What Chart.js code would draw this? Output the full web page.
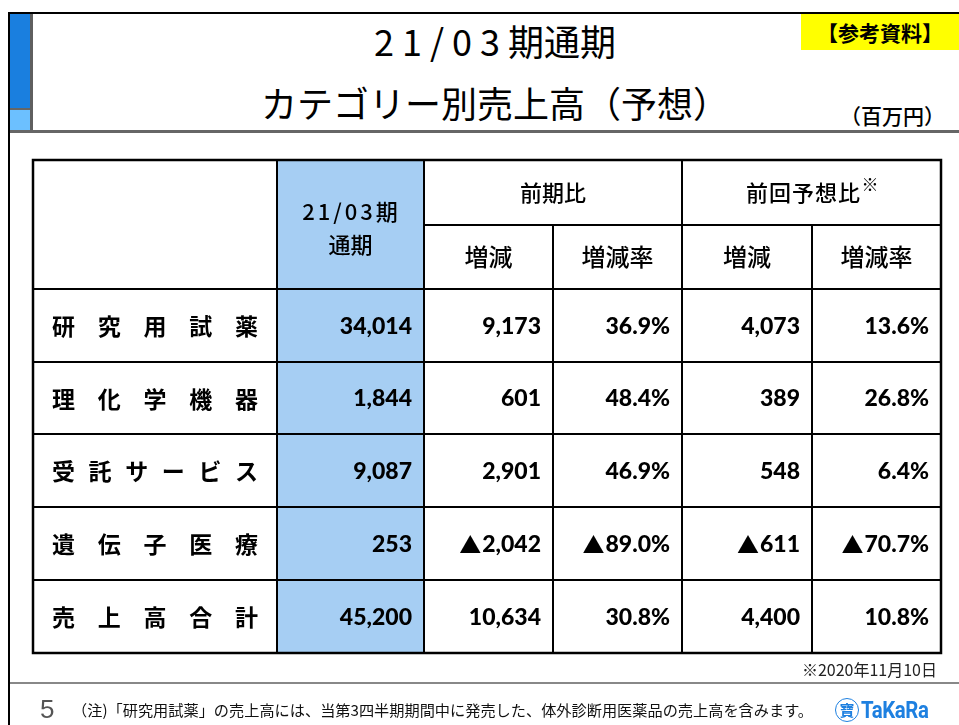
<!DOCTYPE html>
<html lang="ja">
<head>
<meta charset="UTF-8">
<title>21/03期通期 カテゴリー別売上高（予想）</title>
<script src="https://cdn.jsdelivr.net/npm/chart.js"></script>
<style>
  html, body { margin: 0; padding: 0; background: #fff; }
  body { width: 959px; height: 725px; position: relative; overflow: hidden; font-family: "Noto Sans CJK JP", sans-serif; }
  .abs { position: absolute; }
  #table { position: absolute; left: 0; top: 0; }
  .title { left: 31px; width: 928px; text-align: center; font-size: 36px; line-height: 36px; color: #000; font-weight: 400; }
  .title .num { letter-spacing: 8px; }
</style>
</head>
<body>
  <!-- slide frame -->
  <div class="abs" style="left:8px;top:12px;width:2px;height:713px;background:#000"></div>
  <div class="abs" style="left:8px;top:12px;width:951px;height:2px;background:#000"></div>
  <div class="abs" style="left:10px;top:14px;width:20px;height:94px;background:#1a7fdf"></div>
  <div class="abs" style="left:10px;top:108px;width:20px;height:2px;background:#666"></div>
  <div class="abs" style="left:10px;top:110px;width:20px;height:20px;background:#6cc0ff"></div>
  <div class="abs" style="left:30px;top:14px;width:3px;height:118px;background:#5f5f5f"></div>
  <div class="abs" style="left:10px;top:130px;width:949px;height:3px;background:#666"></div>

  <div class="abs title" style="top:22px"><span class="num">21/03</span>期通期</div>
  <div class="abs title" style="top:84px">カテゴリー別売上高（予想）</div>

  <div class="abs" style="left:801px;top:14px;width:158px;height:36px;background:#ffff00;text-align:center;font-weight:700;font-size:21px;line-height:36px">【参考資料】</div>
  <div class="abs" style="right:14px;top:101px;font-size:21px;line-height:28px;font-weight:500">（百万円）</div>

  <canvas id="table" width="959" height="725"></canvas>

  <div class="abs" style="right:22px;top:659px;font-size:16px;line-height:20px;color:#222">※2020年11月10日</div>
  <div class="abs" style="left:10px;top:682px;width:949px;height:2px;background:#888"></div>
  <div class="abs" style="left:40px;top:694px;font-size:26px;line-height:30px;color:#555;font-family:'Liberation Sans',sans-serif">5</div>
  <div class="abs" style="left:72px;top:699px;font-size:15.2px;line-height:20px;color:#111">（注)「研究用試薬」の売上高には、当第3四半期期間中に発売した、体外診断用医薬品の売上高を含みます。</div>
  <div class="abs" style="left:835px;top:697px;height:26px;display:flex;align-items:center;color:#1e80e0">
    <span style="display:inline-block;width:22px;height:22px;border:1.5px solid #1e80e0;border-radius:50%;font-size:15px;line-height:22px;text-align:center;font-weight:700">寶</span>
    <span style="font-family:'Liberation Sans Narrow','Roboto',sans-serif;font-weight:700;font-size:24px;letter-spacing:-0.5px;margin-left:2px;transform:scaleX(0.85);transform-origin:left center">TaKaRa</span>
  </div>

<script>
// ---- data ----
const categories = ['研究用試薬', '理化学機器', '受託サービス', '遺伝子医療', '売上高合計'];
const sales2103 = [34014, 1844, 9087, 253, 45200];
const yoyChange = [9173, 601, 2901, -2042, 10634];
const yoyRate = [36.9, 48.4, 46.9, -89.0, 30.8];
const fcChange = [4073, 389, 548, -611, 4400];
const fcRate = [13.6, 26.8, 6.4, -70.7, 10.8];
const groupHeaders = ['前期比', '前回予想比'];
const subHeaders = ['増減', '増減率', '増減', '増減率'];
const periodHeader = ['21/03期', '通期'];

// ---- layout (table units = px inside the table box) ----
const colEdges = [0, 244, 391, 520, 649, 779, 908];
const headEdges = [0, 65, 129];
const rowEdges = [129, 202, 274, 347, 420, 493];

const fmtNum = v => Math.abs(v).toLocaleString('en-US');
const fmtPct = v => Math.abs(v).toFixed(1) + '%';

const columns = [
  { values: sales2103, fmt: fmtNum },
  { values: yoyChange, fmt: fmtNum },
  { values: yoyRate, fmt: fmtPct },
  { values: fcChange, fmt: fmtNum },
  { values: fcRate, fmt: fmtPct }
];

const rowMid = r => (rowEdges[r] + rowEdges[r + 1]) / 2;
const colMid = c => (colEdges[c] + colEdges[c + 1]) / 2;

const JP = '"Noto Sans CJK JP", sans-serif';
const NUM_FONT = '900 23px Lato, "Noto Sans", sans-serif';

const tablePlugin = {
  id: 'tableGrid',
  beforeDatasetsDraw(chart) {
    const { ctx, scales: { x, y } } = chart;
    const X = v => x.getPixelForValue(v);
    const Y = v => y.getPixelForValue(v);
    ctx.save();
    // highlighted period column
    ctx.fillStyle = '#a6cef3';
    ctx.fillRect(X(colEdges[1]), Y(0), X(colEdges[2]) - X(colEdges[1]), Y(493) - Y(0));

    ctx.strokeStyle = '#000';
    ctx.lineWidth = 2;
    const line = (x1, y1, x2, y2) => {
      ctx.beginPath(); ctx.moveTo(X(x1), Y(y1)); ctx.lineTo(X(x2), Y(y2)); ctx.stroke();
    };
    // verticals
    [1, 2, 4].forEach(c => line(colEdges[c], 0, colEdges[c], 493));
    [3, 5].forEach(c => line(colEdges[c], headEdges[1], colEdges[c], 493));
    // horizontals
    line(colEdges[2], headEdges[1], colEdges[6], headEdges[1]);
    rowEdges.slice(0, -1).forEach(r => line(0, r, 908, r));
    ctx.lineWidth = 2.5;
    ctx.strokeRect(X(0), Y(0), X(908) - X(0), Y(493) - Y(0));

    // header text
    ctx.fillStyle = '#000';
    ctx.textAlign = 'center';
    ctx.textBaseline = 'middle';
    ctx.font = '500 22px ' + JP;
    ctx.letterSpacing = '3px';
    ctx.fillText(periodHeader[0], X(colMid(1)) + 1, Y(52));
    ctx.letterSpacing = '0px';
    ctx.fillText(periodHeader[1], X(colMid(1)), Y(85));
    ctx.font = '500 22px ' + JP;
    ctx.fillText(groupHeaders[0], X((colEdges[2] + colEdges[4]) / 2), Y(33));
    const g2 = groupHeaders[1];
    const g2w = ctx.measureText(g2).width;
    const g2x = X((colEdges[4] + colEdges[6]) / 2) - 8;
    ctx.letterSpacing = '1px';
    ctx.fillText(g2, g2x, Y(33));
    ctx.letterSpacing = '0px';
    ctx.font = '700 17px ' + JP;
    ctx.textAlign = 'left';
    ctx.fillText('※', g2x + g2w / 2 + 3, Y(25));
    ctx.textAlign = 'center';
    ctx.font = '500 24px ' + JP;
    subHeaders.forEach((h, i) => ctx.fillText(h, X(colMid(i + 2)), Y(97)));

    // row labels, spread across the cell
    ctx.font = '700 23px ' + JP;
    ctx.textAlign = 'left';
    categories.forEach((name, r) => {
      const chars = [...name];
      const left = X(19), right = X(225);
      const w = ctx.measureText(chars[0]).width;
      const step = (right - left - w) / (chars.length - 1);
      chars.forEach((ch, i) => ctx.fillText(ch, left + i * step, Y(rowMid(r)) + 1));
    });
    ctx.restore();
  },
  afterDatasetsDraw(chart) {
    const { ctx, scales: { x } } = chart;
    ctx.save();
    ctx.fillStyle = '#000';
    ctx.textAlign = 'right';
    ctx.textBaseline = 'middle';
    chart.data.datasets.forEach((ds, i) => {
      const meta = chart.getDatasetMeta(i);
      const right = x.getPixelForValue(colEdges[i + 2]) - 12;
      meta.data.forEach((pt, r) => {
        const v = columns[i].values[r];
        const txt = columns[i].fmt(v);
        ctx.font = NUM_FONT;
        ctx.fillText(txt, right, pt.y + 1);
        if (v < 0) {
          // negative marker drawn as a full-width triangle
          const w = ctx.measureText(txt).width;
          ctx.font = '22px ' + JP;
          ctx.fillText('▲', right - w - 1, pt.y + 1);
        }
      });
    });
    ctx.restore();
  }
};

new Chart(document.getElementById('table'), {
  type: 'scatter',
  data: {
    datasets: columns.map((col, i) => ({
      label: 'col' + i,
      data: col.values.map((v, r) => ({ x: colMid(i + 1), y: rowMid(r) })),
      pointRadius: 0
    }))
  },
  options: {
    responsive: false,
    animation: false,
    devicePixelRatio: 1,
    events: [],
    layout: { padding: { left: 33, top: 160, right: 18, bottom: 72 } },
    plugins: { legend: { display: false }, tooltip: { enabled: false } },
    scales: {
      x: { type: 'linear', display: false, min: 0, max: 908 },
      y: { type: 'linear', display: false, min: 0, max: 493, reverse: true }
    }
  },
  plugins: [tablePlugin]
});
</script>
</body>
</html>
